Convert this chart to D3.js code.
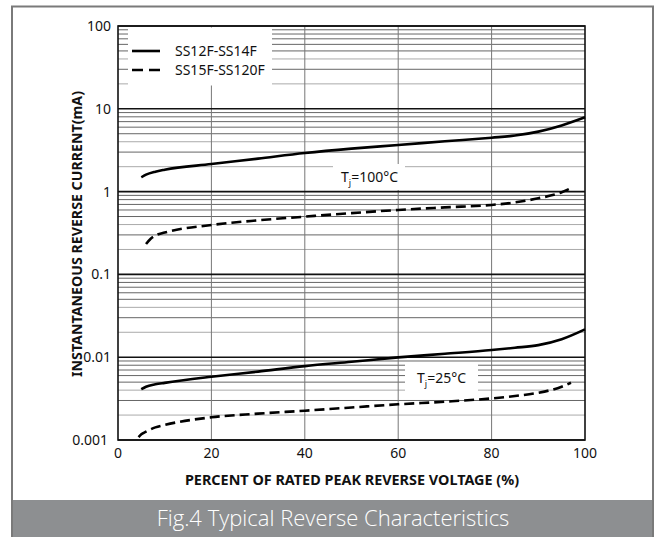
<!doctype html>
<html>
<head>
<meta charset="utf-8">
<script src="https://cdnjs.cloudflare.com/ajax/libs/d3/7.8.5/d3.min.js"></script>
<style>
  body { margin: 0; background: #fff; }
  svg text { font-family: "Noto Sans", "Open Sans", sans-serif; fill: #111; }
</style>
</head>
<body>
<svg id="chart" width="656" height="537"></svg>
<script>
// values
let xTicks = [0, 20, 40, 60, 80, 100];
let yTicks = [100, 10, 1, 0.1, 0.01, 0.001];
let yTickLabels = ["100", "10", "1", "0.1", "0.01", "0.001"];
let seriesNames = ["SS12F-SS14F", "SS15F-SS120F"];

let solid100X = [5, 6, 8, 10, 20, 30, 40, 50, 60, 70, 80, 85, 90, 95, 100];
let solid100Y = [1.49, 1.6, 1.74, 1.84, 2.15, 2.5, 2.92, 3.3, 3.65, 4.05, 4.48, 4.75, 5.3, 6.3, 7.9];
let dash100X = [6, 7, 8, 10, 20, 30, 40, 50, 60, 70, 80, 85, 90, 95, 97];
let dash100Y = [0.233, 0.27, 0.295, 0.32, 0.395, 0.45, 0.498, 0.55, 0.6, 0.645, 0.69, 0.74, 0.83, 0.98, 1.1];
let solid25X = [5, 6, 8, 10, 20, 30, 40, 50, 60, 70, 80, 85, 90, 95, 100];
let solid25Y = [0.0041, 0.0044, 0.0047, 0.0049, 0.0058, 0.0067, 0.0078, 0.0088, 0.00995, 0.011, 0.0122, 0.013, 0.014, 0.0165, 0.0217];
let dash25X = [4.4, 5, 6, 8, 10, 20, 30, 40, 50, 60, 70, 80, 85, 90, 95, 97];
let dash25Y = [0.00108, 0.00117, 0.00126, 0.00142, 0.00152, 0.00188, 0.00208, 0.00226, 0.00247, 0.0027, 0.0029, 0.00318, 0.0034, 0.00372, 0.0044, 0.00492];

var svg = d3.select("#chart");
var pLeft = 118, pRight = 585, pTop = 26, pBottom = 440;

var x = d3.scaleLinear().domain([0, 100]).range([pLeft, pRight]);
var y = d3.scaleLog().domain([0.001, 100]).range([pBottom, pTop]);

// outer frame + caption bar
svg.append("rect").attr("x", 12).attr("y", 500).attr("width", 641).attr("height", 40)
   .attr("fill", "#8d8f91");
svg.append("path").attr("d", "M12,540 V6.5 H653 V540")
   .attr("fill", "none").attr("stroke", "#7a7a7a").attr("stroke-width", 2);
svg.append("text").attr("x", 333).attr("y", 526).attr("text-anchor", "middle")
   .style("font-family", "'Open Sans', 'Noto Sans', sans-serif")
   .style("font-weight", 300).style("font-size", "22px").style("fill", "#fff")
   .text("Fig.4 Typical Reverse Characteristics");

// minor grid
var minor = [];
for (var d = 0.001; d < 100; d *= 10) {
    for (var k = 2; k <= 9; k++) minor.push(+(d * k).toPrecision(3));
}
var grid = svg.append("g");
grid.selectAll("line.minor").data(minor).enter().append("line")
    .attr("class", "minor")
    .attr("x1", pLeft).attr("x2", pRight)
    .attr("y1", d => y(d)).attr("y2", d => y(d))
    .attr("stroke", (d, i) => (i % 8 == 0 || i % 8 == 2 ? "#a0a0a0" : "#555"))
    .attr("stroke-width", 0.9);
grid.selectAll("line.vert").data(xTicks.slice(1, -1)).enter().append("line")
    .attr("class", "vert")
    .attr("x1", d => x(d)).attr("x2", d => x(d))
    .attr("y1", pTop).attr("y2", pBottom)
    .attr("stroke", "#777").attr("stroke-width", 1);
grid.selectAll("line.major").data(yTicks).enter().append("line")
    .attr("class", "major")
    .attr("x1", pLeft).attr("x2", pRight)
    .attr("y1", d => y(d)).attr("y2", d => y(d))
    .attr("stroke", "#111").attr("stroke-width", 1.6);

// white boxes behind legend and labels
svg.append("rect").attr("x", 128).attr("y", 27.5).attr("width", 144).attr("height", 58).attr("fill", "#fff");
svg.append("rect").attr("x", 333).attr("y", 164).attr("width", 72).attr("height", 26).attr("fill", "#fff");
svg.append("rect").attr("x", 405).attr("y", 364).attr("width", 73).attr("height", 27).attr("fill", "#fff");

// plot border
svg.append("rect").attr("x", pLeft).attr("y", pTop).attr("width", pRight - pLeft).attr("height", pBottom - pTop)
   .attr("fill", "none").attr("stroke", "#111").attr("stroke-width", 1.6);

// curves
var line = d3.line().x(d => x(d[0])).y(d => y(d[1])).curve(d3.curveMonotoneX);
function curve(xs, ys, dashed) {
    svg.append("path").datum(xs.map((v, i) => [v, ys[i]]))
       .attr("d", line).attr("fill", "none").attr("stroke", "#000")
       .attr("stroke-width", 2.6)
       .attr("stroke-dasharray", dashed ? "10,5" : null);
}
curve(solid100X, solid100Y, false);
curve(dash100X, dash100Y, true);
curve(solid25X, solid25Y, false);
curve(dash25X, dash25Y, true);

// legend
[0, 1].forEach(function(i) {
    var ly = 51 + i * 19;
    svg.append("line").attr("x1", 132).attr("x2", 160).attr("y1", ly).attr("y2", ly)
       .attr("stroke", "#000").attr("stroke-width", 2.6)
       .attr("stroke-dasharray", i ? "11,6" : null);
    svg.append("text").attr("x", 175).attr("y", ly + 5).style("font-size", "14px").text(seriesNames[i]);
});

// Tj labels
function tj(tx, ty, rest) {
    var t = svg.append("text").attr("x", tx).attr("y", ty).style("font-size", "14px");
    t.append("tspan").text("T");
    t.append("tspan").attr("dy", 4).style("font-size", "9px").text("j");
    t.append("tspan").attr("dy", -4).text(rest);
}
tj(341, 182, "=100°C");
tj(417, 383, "=25°C");

// tick labels
svg.selectAll("text.yt").data(yTicks).enter().append("text")
   .attr("class", "yt").attr("x", (d, i) => (i == yTicks.length - 1 ? 108 : 111))
   .attr("y", d => y(d) + 5)
   .attr("text-anchor", "end").style("font-size", "14px")
   .text((d, i) => yTickLabels[i]);
svg.selectAll("text.xt").data(xTicks).enter().append("text")
   .attr("class", "xt").attr("x", d => x(d)).attr("y", 458)
   .attr("text-anchor", "middle").style("font-size", "14px")
   .text(d => d);

// axis titles
svg.append("text").attr("x", 352).attr("y", 485).attr("text-anchor", "middle")
   .style("font-size", "14.4px").style("font-weight", "bold")
   .text("PERCENT OF RATED PEAK REVERSE VOLTAGE (%)");
svg.append("text").attr("transform", "translate(82,234) rotate(-90)").attr("text-anchor", "middle")
   .style("font-size", "14.2px").style("font-weight", "bold")
   .text("INSTANTANEOUS REVERSE CURRENT(mA)");
</script>
</body>
</html>
